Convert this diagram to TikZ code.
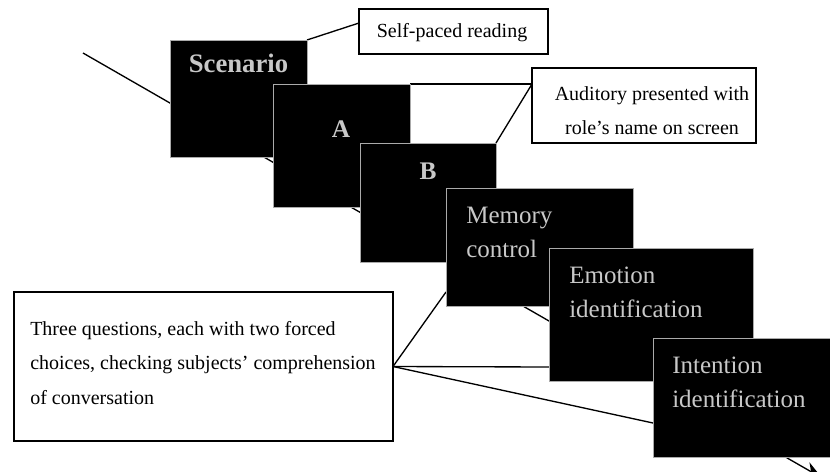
\documentclass[tikz,border=0pt]{standalone}
\usepackage{fontspec}
\setmainfont{Liberation Serif}
\usetikzlibrary{calc,arrows.meta}
\pgfdeclarelayer{background}
\pgfsetlayers{background,main}
\definecolor{boxtxt}{RGB}{200,200,200}
\definecolor{boxrim}{RGB}{170,170,170}
\begin{document}
\begin{tikzpicture}[x=0.75pt,y=-0.75pt,
  sz/.style 2 args={minimum width=#1*0.75pt, minimum height=#2*0.75pt},
  screen/.style={draw=boxrim, line width=0.6pt, fill=black, anchor=north west, inner sep=0pt, outer sep=0pt},
  note/.style={draw=black, line width=1pt, fill=white, anchor=north west, inner sep=0pt, outer sep=0pt},
  link/.style={draw=black, line width=1pt},
  btitle/.style={text=boxtxt, font=\fontsize{20}{24}\selectfont\bfseries, anchor=base, inner sep=0pt},
  stitle/.style={text=boxtxt, font=\fontsize{18.75}{25.5}\selectfont, anchor=base west, inner sep=0pt, align=left},
  ntext/.style={font=\fontsize{15}{25.8}\selectfont, inner sep=0pt, anchor=base}
]
\useasboundingbox (0,0) rectangle (830,471);

% screens
\node[screen, sz={137}{117}] (scen) at (170,40) {};
\node[screen, sz={137}{123}] (sa) at (273,84) {};
\node[screen, sz={136}{119}] (sb) at (360,143) {};
\node[screen, sz={187}{118}] (mem) at (446,188) {};
\node[screen, sz={204}{133}] (emo) at (549,248) {};
\node[screen, sz={182}{119}] (int) at (653,338) {};

% screen texts (multi-line nodes: base = baseline of last line)
\node[btitle] (scent) at (238.5,72) {Scenario};
\node[btitle, font=\fontsize{19}{24}\selectfont\bfseries] (sat) at (341,137) {A};
\node[btitle, font=\fontsize{19}{24}\selectfont\bfseries] (sbt) at (428,179) {B};
\node[stitle] (memt) at (466,257) {Memory\\control};
\node[stitle] (emot) at (569,317) {Emotion\\identification};
\node[stitle] (intt) at (672,407) {Intention\\identification};

% notes
\node[note, sz={189}{45}] (spr) at (359,9) {};
\node[ntext] (sprt) at (452,37) {Self-paced reading};
\node[note, sz={224}{75}] (aud) at (532,68) {};
\node[ntext, align=center, font=\fontsize{15}{25.5}\selectfont] (audt) at (652,134) {Auditory presented with\\role’s name on screen};
\node[note, sz={379}{149}] (q) at (14,292) {};
\node[ntext, anchor=base west, align=left] (qt) at (30,404) {Three questions, each with two forced\\choices, checking subjects’ comprehension\\of conversation};

% connectors
\coordinate (dstart) at (83,53);
\coordinate (dend) at (822,478);
\coordinate (sprin) at ($(spr.north west)+(0,14)$);
\coordinate (audin) at ($(aud.north west)+(0,16)$);
\coordinate (memin) at ($(mem.south west)+(0,-14)$);
\coordinate (emoin) at ($(emo.south west)+(0,-14)$);
\coordinate (intin) at ($(int.south west)+(0,-34)$);
\begin{pgfonlayer}{background}
\draw[link, -{Stealth[length=14pt, width=11pt]}] (dstart) -- (dend);
\draw[link] (scen.north east) -- (sprin);
\draw[link] (sa.north east) -- (audin);
\draw[link] (sb.north east) -- (audin);
\draw[link] (q.east) -- (memin);
\draw[link] (q.east) -- (emoin);
\draw[link] (q.east) -- (intin);
\end{pgfonlayer}
\end{tikzpicture}
\end{document}
